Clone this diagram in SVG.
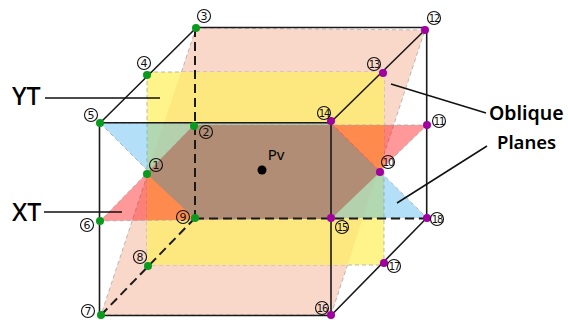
<svg xmlns="http://www.w3.org/2000/svg" width="568" height="320" viewBox="0 0 568 320">
<style>
.p{stroke:#a9a9a9;stroke-opacity:.8;stroke-width:1;stroke-dasharray:4 3;}
.e{fill:none;stroke:#1a1a1a;stroke-width:1.6;}
.d{fill:none;stroke:#1a1a1a;stroke-width:2;stroke-dasharray:9 5;}
.l{fill:none;stroke:#111;stroke-width:1.5;}
.g{fill:#0a9a1e;}
.m{fill:#a000a0;}
.c{fill:none;stroke:#111;stroke-width:1.1;}
.n{font-family:"DejaVu Sans",sans-serif;font-size:11px;fill:#111;text-anchor:middle;}
.w{font-size:10px;letter-spacing:-1.200px;}
.t{font-family:"Noto Sans","Open Sans",sans-serif;fill:#000;}
</style>
<g id="planes">
<polygon class="p" fill="#f9d7c9" points="196,28 425,30 331,315 101,315"/>
<rect class="p" fill="#fef48a" x="147" y="72" width="237" height="193"/>
<polygon fill="#fde880" points="181,72 384,72 384,154 347.500,265 147,265 147,174"/>
<polygon class="p" fill="rgb(64,176,237)" fill-opacity="0.4" points="100,123 331,123 427,218 195,218"/>
<polygon class="p" fill="#ff0000" fill-opacity="0.4" points="194,125 427,125 331,218 100,221"/>
<polygon fill="#b08d74" points="194,125 331,125 380,172 331,219 195,219 147,174"/>
</g>
<g id="connectors">
<path class="d" d="M195,28V218M195,218.500H427M195,218L101,315"/>
<path class="e" d="M196,27.500H425M426.700,28V218L331,315.500H100M99.500,315.500V122.700H331V315M100,123L196,28M331,122L425,30"/>
<path class="l" d="M45,98H160M44,212H122M391,84L486,113M397,203L487,146"/>
</g>
<g id="center"><circle cx="262" cy="170" r="4.500" fill="#000"/><text class="t" x="276" y="160" font-size="15" text-anchor="middle">Pv</text></g>
<g id="n1"><circle class="g" cx="147" cy="174" r="4"/><circle class="c" cx="156" cy="165" r="6.500"/><text class="n" x="156" y="169">1</text></g>
<g id="n2"><circle class="g" cx="194" cy="126" r="4"/><circle class="c" cx="206" cy="132" r="6.500"/><text class="n" x="206" y="136">2</text></g>
<g id="n3"><circle class="g" cx="196" cy="28" r="4"/><circle class="c" cx="204" cy="16" r="6.500"/><text class="n" x="204" y="20">3</text></g>
<g id="n4"><circle class="g" cx="147" cy="75" r="4"/><circle class="c" cx="144" cy="63" r="6.500"/><text class="n" x="144" y="67">4</text></g>
<g id="n5"><circle class="g" cx="100" cy="123" r="4"/><circle class="c" cx="91" cy="115" r="6.500"/><text class="n" x="91" y="119">5</text></g>
<g id="n6"><circle class="g" cx="100" cy="221" r="4"/><circle class="c" cx="87" cy="225" r="6.500"/><text class="n" x="87" y="229">6</text></g>
<g id="n7"><circle class="g" cx="101" cy="315" r="4"/><circle class="c" cx="88" cy="311" r="6.500"/><text class="n" x="88" y="315">7</text></g>
<g id="n8"><circle class="g" cx="148" cy="266" r="4"/><circle class="c" cx="140" cy="257" r="6.500"/><text class="n" x="140" y="261">8</text></g>
<g id="n9"><circle class="g" cx="195" cy="218" r="4"/><circle class="c" cx="183" cy="217" r="6.500"/><text class="n" x="183" y="221">9</text></g>
<g id="n10"><circle class="m" cx="380" cy="172" r="4"/><circle class="c" cx="388" cy="162" r="6.500"/><text class="n w" x="388" y="166">10</text></g>
<g id="n11"><circle class="m" cx="427" cy="125" r="4"/><circle class="c" cx="439" cy="121" r="6.500"/><text class="n w" x="439" y="125">11</text></g>
<g id="n12"><circle class="m" cx="425" cy="30" r="4"/><circle class="c" cx="434" cy="18" r="6.500"/><text class="n w" x="434" y="22">12</text></g>
<g id="n13"><circle class="m" cx="383" cy="73" r="4"/><circle class="c" cx="374" cy="64" r="6.500"/><text class="n w" x="374" y="68">13</text></g>
<g id="n14"><circle class="m" cx="331" cy="121" r="4"/><circle class="c" cx="324" cy="113" r="6.500"/><text class="n w" x="324" y="117">14</text></g>
<g id="n15"><circle class="m" cx="331" cy="218" r="4"/><circle class="c" cx="342" cy="227" r="6.500"/><text class="n w" x="342" y="231">15</text></g>
<g id="n16"><circle class="m" cx="331" cy="315" r="4"/><circle class="c" cx="322" cy="308" r="6.500"/><text class="n w" x="322" y="312">16</text></g>
<g id="n17"><circle class="m" cx="384" cy="263" r="4"/><circle class="c" cx="394" cy="266" r="6.500"/><text class="n w" x="394" y="270">17</text></g>
<g id="n18"><circle class="m" cx="427" cy="218" r="4"/><circle class="c" cx="437" cy="219" r="6.500"/><text class="n w" x="437" y="223">18</text></g>
<g id="labels">
<text class="t" x="12" y="105" font-size="25" font-weight="500">YT</text>
<text class="t" x="12" y="221" font-size="25" font-weight="500">XT</text>
<text class="t" x="489" y="120" font-size="19.500" font-weight="600">Oblique</text>
<text class="t" x="497" y="149" font-size="18.500" font-weight="600">Planes</text>
</g>
</svg>
